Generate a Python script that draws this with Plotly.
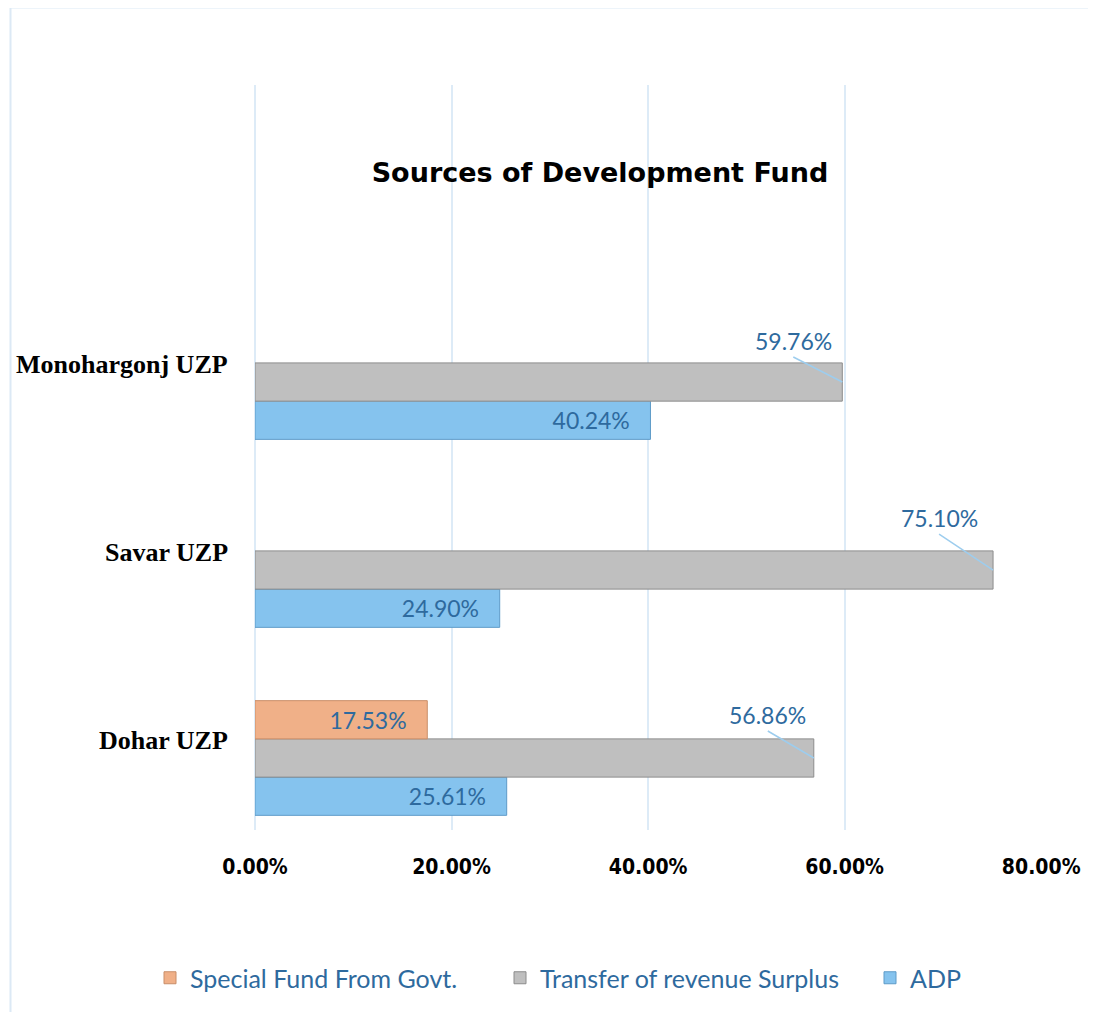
import plotly.graph_objects as go

categories = ["Dohar UZP", "Savar UZP", "Monohargonj UZP"]
adp = [0.2561, 0.2490, 0.4024]
transfer = [0.5686, 0.7510, 0.5976]
special = [0.1753, None, None]

# page body has an 8px margin, so figure coords = screen coords - 8
OFF = 8
W, H = 1096 - OFF, 1012 - OFF
L, R, T, B = 255 - OFF, 1042 - OFF, 85 - OFF, 830 - OFF

def px_x(p):
    return (p - OFF - L) / (R - L)

def px_y(p):
    return (B - (p - OFF)) / (B - T)

lab_color = "#2E6A9E"
lab_font = dict(family="Lato, Noto Sans, sans-serif", size=23, color=lab_color)
pad = "&nbsp;" * 3

fig = go.Figure()

fig.add_trace(go.Bar(
    name="ADP", y=categories, x=adp, orientation="h", legend="legend2",
    marker=dict(color="#85C3EE", line=dict(color="#5E9BC8", width=1)),
    text=[f"{v*100:.2f}%{pad}" for v in adp], textposition="inside",
    insidetextanchor="end", textfont=lab_font,
))
fig.add_trace(go.Bar(
    name="Transfer of revenue Surplus", y=categories, x=transfer, orientation="h",
    marker=dict(color="#BFBFBF", line=dict(color="#8C8C8C", width=1)),
))
fig.add_trace(go.Bar(
    name="Special Fund From Govt.", y=categories, x=special, orientation="h",
    marker=dict(color="#F0B088", line=dict(color="#C98E68", width=1)),
    text=[f"{v*100:.2f}%{pad}" if v else "" for v in special], textposition="inside",
    insidetextanchor="end", textfont=lab_font,
))

# callout labels for the gray bars
offsets = [(-46, -27), (-54, -36), (-49, -25)]
for cat, v, (ax, ay) in zip(categories, transfer, offsets):
    fig.add_annotation(
        x=v, y=cat, xref="x", yref="y", text=f"{v*100:.2f}%",
        showarrow=True, arrowhead=0, arrowwidth=1.5, arrowcolor="#9DCDEE",
        ax=ax, ay=ay, xanchor="center", yanchor="bottom",
        font=lab_font, borderpad=1,
    )

# category labels (bold serif, sitting slightly above group centre)
for cat in categories:
    fig.add_annotation(
        x=0, y=cat, xref="paper", yref="y", text=f"<b>{cat}</b>",
        showarrow=False, xanchor="right", xshift=-25, yshift=18,
        font=dict(family="Liberation Serif, Times New Roman, serif", size=26, color="black"),
    )

# light frame around chart area
fig.add_shape(type="line", xref="paper", yref="paper",
              x0=px_x(10), x1=px_x(1200), y0=px_y(7.5), y1=px_y(7.5),
              line=dict(color="#DCE9F5", width=2))
fig.add_shape(type="line", xref="paper", yref="paper",
              x0=px_x(10.5), x1=px_x(10.5), y0=px_y(7), y1=px_y(1100),
              line=dict(color="#DCE9F5", width=2))

legend_font = dict(family="Lato, Noto Sans, sans-serif", size=25, color=lab_color)

fig.update_layout(
    width=W, height=H,
    paper_bgcolor="white", plot_bgcolor="white",
    margin=dict(l=L, r=W - R, t=T, b=H - B),
    barmode="group", bargap=0.39, bargroupgap=0,
    title=dict(text="<b>Sources of Development Fund</b>",
               x=(600 - OFF) / W, xanchor="center", y=1 - (173 - OFF) / H, yanchor="middle",
               font=dict(family="DejaVu Sans, sans-serif", size=27, color="black")),
    xaxis=dict(range=[0, 0.8008], tickvals=[0, 0.2, 0.4, 0.6, 0.8], tickformat=".2%",
               showgrid=True, gridcolor="#DDEBF7", gridwidth=2,
               zeroline=True, zerolinecolor="#DDEBF7", zerolinewidth=2,
               showline=False, ticks="",
               ticklabelstandoff=22,
               tickfont=dict(family="DejaVu Sans Condensed, Liberation Sans Narrow, Arial, sans-serif",
                             size=21, color="black", weight="bold")),
    yaxis=dict(range=[-0.383, 3.58], showticklabels=False, showgrid=False,
               zeroline=False, showline=False, ticks=""),
    legend=dict(orientation="h", traceorder="reversed",
                x=(150 - OFF) / W, xref="container", xanchor="left",
                y=1 - (978 - OFF) / H, yref="container", yanchor="middle",
                font=legend_font, entrywidth=305, entrywidthmode="pixels", itemwidth=30),
    legend2=dict(orientation="h",
                 x=(870 - OFF) / W, xref="container", xanchor="left",
                 y=1 - (978 - OFF) / H, yref="container", yanchor="middle",
                 font=legend_font, itemwidth=30),
    showlegend=True,
)

fig.write_html("out.html")
